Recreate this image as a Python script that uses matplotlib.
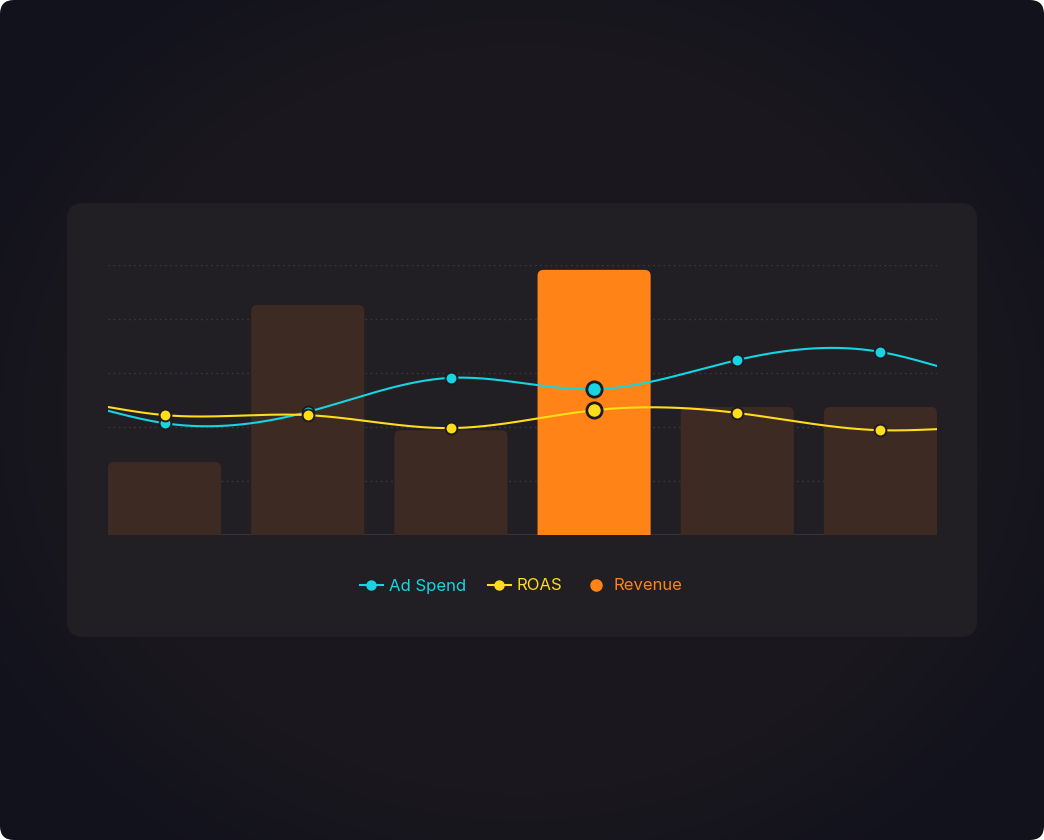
import numpy as np
import matplotlib
matplotlib.use("Agg")
import matplotlib.pyplot as plt
from matplotlib.patches import FancyBboxPatch
from matplotlib.lines import Line2D
from matplotlib.colors import to_rgb

plt.rcParams['font.family'] = ['Inter', 'DejaVu Sans']

# data
categories = ["Jan", "Feb", "Mar", "Apr", "May", "Jun"]
revenue = [13.5, 42.6, 19.4, 49.1, 23.7, 23.7]          # k$
ad_spend = [20.7, 22.8, 29.1, 27.0, 32.4, 33.9]        # k$
ad_spend_edges = (23.0, 31.3)                          # curve values at the plot edges
roas = [2.22, 2.22, 1.98, 2.31, 2.26, 1.94]
roas_edges = (2.37, 1.96)
highlight = 3

BG_CENTER = "#1a181e"
BG_EDGE = "#12121d"
CARD = "#211f24"
BAR = "#3d2a22"
ORANGE = "#ff8316"
CYAN = "#16d5e3"
YELLOW = "#ffdd1a"
GRID = "#3a3840"
MARKER_EDGE = "#1d1b21"

W, H = 1044, 840


def natural_spline(x, y, n=500):
    x = np.asarray(x, float)
    y = np.asarray(y, float)
    k = len(x)
    h = np.diff(x)
    A = np.zeros((k, k))
    b = np.zeros(k)
    A[0, 0] = A[-1, -1] = 1
    for i in range(1, k - 1):
        A[i, i - 1] = h[i - 1]
        A[i, i] = 2 * (h[i - 1] + h[i])
        A[i, i + 1] = h[i]
        b[i] = 6 * ((y[i + 1] - y[i]) / h[i] - (y[i] - y[i - 1]) / h[i - 1])
    m = np.linalg.solve(A, b)
    xs = np.linspace(x[0], x[-1], n)
    idx = np.clip(np.searchsorted(x, xs) - 1, 0, k - 2)
    x0, x1 = x[idx], x[idx + 1]
    hh = x1 - x0
    t0, t1 = x1 - xs, xs - x0
    ys = (m[idx] * t0 ** 3 / (6 * hh) + m[idx + 1] * t1 ** 3 / (6 * hh)
          + (y[idx] / hh - m[idx] * hh / 6) * t0
          + (y[idx + 1] / hh - m[idx + 1] * hh / 6) * t1)
    return xs, ys


fig = plt.figure(figsize=(W / 100, H / 100), dpi=100)
fig.patch.set_facecolor("white")

# background in pixel units
bg = fig.add_axes([0, 0, 1, 1])
bg.set_xlim(0, W)
bg.set_ylim(0, H)
bg.axis("off")

frame = FancyBboxPatch((0, 0), W, H, boxstyle="round,pad=0,rounding_size=14",
                       fc="none", ec="none")
bg.add_patch(frame)
yy, xx = np.mgrid[0:H, 0:W]
r = np.sqrt(((xx - W / 2) / 600.0) ** 2 + ((yy - H / 2) / 520.0) ** 2)
t = np.clip((r - 0.72) / 0.3, 0, 1)[..., None]
c0 = np.array(to_rgb(BG_CENTER))
c1 = np.array(to_rgb(BG_EDGE))
img = c0 * (1 - t) + c1 * t
im = bg.imshow(img, extent=(0, W, 0, H), origin="lower", aspect="auto", zorder=0)
im.set_clip_path(frame)

card = FancyBboxPatch((67, 203), 910, 434, boxstyle="round,pad=0,rounding_size=16",
                      fc=CARD, ec="none", zorder=1)
bg.add_patch(card)

# main chart
ax = fig.add_axes([108 / W, (H - 535) / H, 829 / W, 270 / H])
ax.set_facecolor("none")
x = np.arange(len(categories))
bw = 0.79
ax.set_xlim(-bw / 2, len(categories) - 1 + bw / 2)
ax.set_ylim(0, 50)
for s in ax.spines.values():
    s.set_visible(False)
ax.set_xticks([])
ax.set_yticks([])
for g in [10, 20, 30, 40, 50]:
    ax.axhline(g, color=GRID, lw=1, ls=(0, (1.2, 2.5)), zorder=0)
ax.axhline(0, color="#34323a", lw=1.5, zorder=0.5)

bars = ax.bar(x, revenue, width=bw, color=BAR)
# replace the plain rectangles with top-rounded ones
px_x = 829 / (ax.get_xlim()[1] - ax.get_xlim()[0])
px_y = 270 / 50
rad = 6 / px_x
for i, rect in enumerate(bars):
    bx, bwid, bh = rect.get_x(), rect.get_width(), rect.get_height()
    rect.remove()
    p = FancyBboxPatch((bx, -5), bwid, bh + 5,
                       boxstyle=f"round,pad=0,rounding_size={rad}",
                       mutation_aspect=px_x / px_y,
                       fc=ORANGE if i == highlight else BAR, ec="none", zorder=1)
    ax.add_patch(p)

line_x = np.concatenate([[ax.get_xlim()[0]], x, [ax.get_xlim()[1]]])

sx, sy = natural_spline(line_x, [ad_spend_edges[0]] + ad_spend + [ad_spend_edges[1]])
ax.plot(sx, sy, color=CYAN, lw=1.5, zorder=3)
others = [i for i in range(len(x)) if i != highlight]
ax.plot(x[others], np.array(ad_spend)[others], ls="none", marker="o", ms=8.5,
        mfc=CYAN, mec=MARKER_EDGE, mew=1.4, zorder=4)
ax.plot([x[highlight]], [ad_spend[highlight]], ls="none", marker="o", ms=11,
        mfc=CYAN, mec=MARKER_EDGE, mew=2, zorder=4)

ax2 = ax.twinx()
ax2.set_ylim(0, 5)
ax2.set_xlim(ax.get_xlim())
ax2.set_facecolor("none")
for s in ax2.spines.values():
    s.set_visible(False)
ax2.set_yticks([])
rx, ry = natural_spline(line_x, [roas_edges[0]] + roas + [roas_edges[1]])
ax2.plot(rx, ry, color=YELLOW, lw=1.5, zorder=3)
ax2.plot(x[others], np.array(roas)[others], ls="none", marker="o", ms=8.5,
         mfc=YELLOW, mec=MARKER_EDGE, mew=1.4, zorder=4)
ax2.plot([x[highlight]], [roas[highlight]], ls="none", marker="o", ms=11,
         mfc=YELLOW, mec=MARKER_EDGE, mew=2, zorder=4)

handles = [
    Line2D([], [], color=CYAN, lw=1.5, marker="o", ms=6.5),
    Line2D([], [], color=YELLOW, lw=1.5, marker="o", ms=6.5),
    Line2D([], [], color=ORANGE, ls="none", marker="o", ms=8),
]
leg = fig.legend(handles, ["Ad Spend", "ROAS", "Revenue"], loc="center",
                 bbox_to_anchor=(521 / W, 1 - 586 / H), ncol=3, frameon=False,
                 fontsize=12, handlelength=1.4, handletextpad=0.35,
                 columnspacing=1.3)
for txt, c in zip(leg.get_texts(), [CYAN, YELLOW, ORANGE]):
    txt.set_color(c)

fig.savefig("out.png", dpi=100, facecolor=fig.get_facecolor())
